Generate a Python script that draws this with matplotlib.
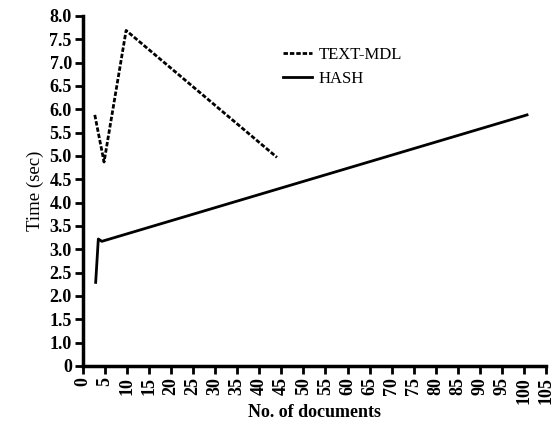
import matplotlib.pyplot as plt
import numpy as np

plt.rcParams['font.family'] = ['Liberation Serif', 'DejaVu Serif']

# data
text_mdl_x = [2.7, 4.8, 9.8, 44]
text_mdl_y = [5.88, 4.87, 7.69, 4.97]
hash_x = [2.9, 3.5, 4.3, 100.7]
hash_y = [2.29, 3.22, 3.17, 5.88]

x_ticks = list(range(0, 106, 5))
# bottom tick of the y axis sits at 0.5 but is printed as "0"
y_ticks = [0.5, 1.0, 1.5, 2.0, 2.5, 3.0, 3.5, 4.0, 4.5, 5.0, 5.5, 6.0, 6.5, 7.0, 7.5, 8.0]
y_labels = ['0'] + ['%.1f' % v for v in y_ticks[1:]]

fig = plt.figure(figsize=(5.6, 4.32), dpi=100)
ax = fig.add_axes([0.148, 0.153, 0.827, 0.81])

ax.plot(text_mdl_x, text_mdl_y, color='black', lw=2, ls=(0, (1.6, 0.7)), label='TEXT-MDL')
ax.plot(hash_x, hash_y, color='black', lw=2, label='HASH')

ax.set_xlim(0, 105)
ax.set_ylim(0.5, 8.0)
ax.set_xticks(x_ticks)
ax.set_xticklabels([str(v) for v in x_ticks], rotation=90, fontsize=13, fontweight='bold')
ax.set_yticks(y_ticks)
ax.set_yticklabels(y_labels, fontsize=13, fontweight='bold')
ax.tick_params(length=6, width=2, pad=2)

for s in ['top', 'right']:
    ax.spines[s].set_visible(False)
for s in ['left', 'bottom']:
    ax.spines[s].set_linewidth(2.5)

ax.set_xlabel('No. of documents', fontsize=13, fontweight='bold', labelpad=0)
ax.set_ylabel('Time (sec)', fontsize=13.5, labelpad=4)

ax.legend(loc='upper left', bbox_to_anchor=(0.415, 0.935), frameon=False, fontsize=12,
          handlelength=1.7, handletextpad=0.4, labelspacing=0.45, borderpad=0)

fig.savefig('out.png', dpi=100)
